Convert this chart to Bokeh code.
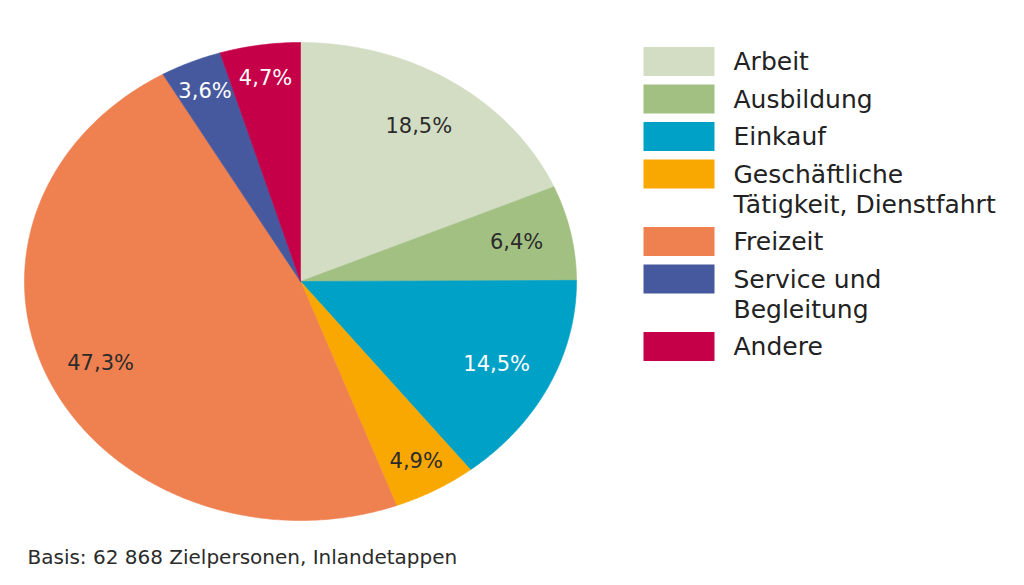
import numpy as np
from bokeh.plotting import figure
from bokeh.models import Range1d
from bokeh.core.properties import value
from bokeh.embed import file_html
from bokeh.resources import INLINE

# ---- data ----
categories = ["Arbeit", "Ausbildung", "Einkauf",
              "Geschäftliche Tätigkeit, Dienstfahrt", "Freizeit",
              "Service und Begleitung", "Andere"]
shares = [18.5, 6.4, 14.5, 4.9, 47.3, 3.6, 4.7]
pct_labels = ["18,5%", "6,4%", "14,5%", "4,9%", "47,3%", "3,6%", "4,7%"]
legend_lines = [["Arbeit"], ["Ausbildung"], ["Einkauf"],
                ["Geschäftliche", "Tätigkeit, Dienstfahrt"], ["Freizeit"],
                ["Service und", "Begleitung"], ["Andere"]]
colors = ["#d3ddc4", "#a3c083", "#00a1c7", "#f8a800", "#ef8050", "#47599e", "#c50048"]
label_colors = ["#2b2b2b", "#2b2b2b", "#ffffff", "#2b2b2b", "#2b2b2b", "#ffffff", "#ffffff"]
label_r = [0.78, 0.80, 0.79, 0.86, 0.80, 0.87, 0.86]
footer = "Basis: 62 868 Zielpersonen, Inlandetappen"

# ---- layout (pixels from the figure's top-left corner) ----
W, H = 1008, 569
CX, CY, RX, RY = 300.0, 281.0, 276.0, 239.0
FONT = "DejaVu Sans"

def X(sx):
    return (sx - CX) / RX

def Y(sy):
    return (CY - sy) / RY

p = figure(width=W, height=H, output_backend="svg", toolbar_location=None,
           x_range=Range1d(X(0), X(W)), y_range=Range1d(Y(H), Y(0)),
           min_border=0, outline_line_color=None, background_fill_color="white")
p.axis.visible = False
p.grid.visible = False

# pie slices: clockwise from 12 o'clock, on a unit circle stretched by the ranges
total = float(sum(shares))
cum = np.concatenate([[0.0], np.cumsum(shares)])
xs, ys = [], []
for i in range(len(shares)):
    a0 = cum[i] / total * 2 * np.pi
    a1 = cum[i + 1] / total * 2 * np.pi
    n = max(8, int((a1 - a0) / 0.01))
    t = np.linspace(a0, a1, n)
    xs.append(np.concatenate([[0.0], np.sin(t), [0.0]]).tolist())
    ys.append(np.concatenate([[0.0], np.cos(t), [0.0]]).tolist())
p.patches(xs, ys, fill_color=colors, line_color=colors, line_width=0.6)

# percentage labels
mids = (cum[:-1] + cum[1:]) / 2 / total * 2 * np.pi
lx = [r * np.sin(m) for r, m in zip(label_r, mids)]
ly = [r * np.cos(m) for r, m in zip(label_r, mids)]
p.text(lx, ly, text=pct_labels, text_color=label_colors, text_font=value(FONT),
       text_font_size="21px", text_align="center", text_baseline="middle")

# legend
sq_x, sq_w, sq_h = 678.5, 71, 29
txt_x = 733
y0, step, line_h = 61.0, 37.5, 30.0
extra = 0
rx_, ry_, tx_, ty_, tt_ = [], [], [], [], []
for i, lines in enumerate(legend_lines):
    cy = y0 + step * i + line_h * extra
    rx_.append(X(sq_x)); ry_.append(Y(cy))
    for j, ln in enumerate(lines):
        tx_.append(X(txt_x)); ty_.append(Y(cy + line_h * j)); tt_.append(ln)
    extra += len(lines) - 1
p.rect(rx_, ry_, width=sq_w, height=sq_h, width_units="screen", height_units="screen",
       fill_color=colors, line_color=None)
p.text(tx_, ty_, text=tt_, text_color="#222222", text_font=value(FONT),
       text_font_size="25px", text_align="left", text_baseline="middle")

# footer
p.text([X(27)], [Y(556)], text=[footer], text_color="#2b2b2b", text_font=value(FONT),
       text_font_size="20px", text_align="left", text_baseline="middle")

open("out.html", "w").write(file_html(p, INLINE))
